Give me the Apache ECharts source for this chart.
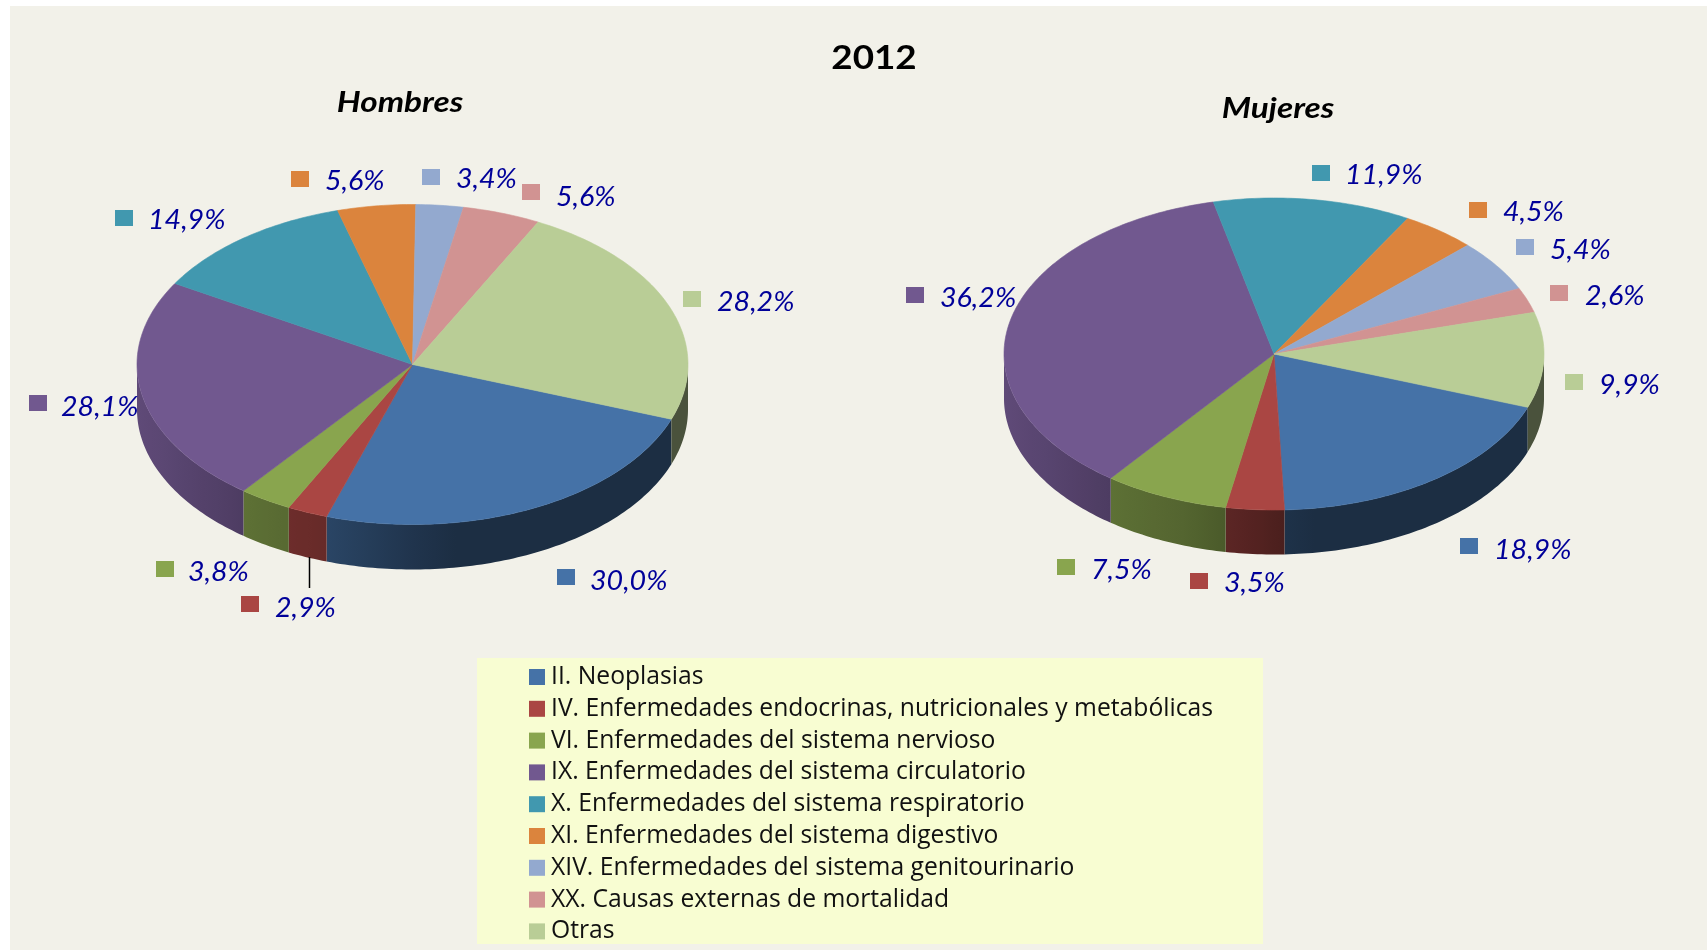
<!DOCTYPE html>
<html><head><meta charset="utf-8">
<style>html,body{margin:0;padding:0;background:#fff}#c{width:1707px;height:950px}</style>
<script src="https://cdn.jsdelivr.net/npm/echarts@6/dist/echarts.min.js"></script>
</head><body><div id="c"></div>
<script>
const categories = ['II. Neoplasias','IV. Enfermedades endocrinas, nutricionales y metabólicas','VI. Enfermedades del sistema nervioso','IX. Enfermedades del sistema circulatorio','X. Enfermedades del sistema respiratorio','XI. Enfermedades del sistema digestivo','XIV. Enfermedades del sistema genitourinario','XX. Causas externas de mortalidad','Otras'];
const hombresValues = [30.0,2.9,3.8,28.1,14.9,5.6,3.4,5.6,28.2];
const mujeresValues = [18.9,3.5,7.5,36.2,11.9,4.5,5.4,2.6,9.9];
const palette = ['#4572A7','#AA4643','#89A54E','#71588F','#4198AF','#DB843D','#93A9CF','#D19392','#B9CD96'];
const chartTitle = '2012';
const pieTitles = ['Hombres','Mujeres'];

// label layout: [marker left, marker centre y, text left, text centre y]
const hombresLabelLayout = [[557,577,590,581],[241,604,275,608],[156,569,188,572],[29,403,61,407],[115,218,148,220],[291,179,325,181],[422,177,456,179],[522,192,556,197],[683,299,717,302]];
const mujeresLabelLayout = [[1460,546,1494,550],[1190,581,1224,583],[1057,567,1091,570],[906,295,940,298],[1312,173,1345,175],[1469,210,1503,212],[1516,247,1550,250],[1550,293,1585,296],[1565,382,1599,385]];

const hombresGeom = {cx:412.5,cy:364.5,rx:275.5,ry:160,depth:45};
const mujeresGeom = {cx:1274,cy:354,rx:270,ry:156,depth:44.5};
const START_ANGLE = 110;
const LABEL_FONT = 'Lato, "Liberation Sans", sans-serif';

function shade(hex,f){
  const n=parseInt(hex.slice(1),16);
  const c=s=>Math.round(((n>>s)&255)*f);
  return `rgb(${c(16)},${c(8)},${c(0)})`;
}
const shadeTable=[[-1,.84],[-.6,.68],[-.3,.6],[0,.46],[.1,.4],[1,.4]];
function shadeAt(nx){
  for(let i=1;i<shadeTable.length;i++){
    const [a,fa]=shadeTable[i-1],[b,fb]=shadeTable[i];
    if(nx<=b){return fa+(fb-fa)*(nx-a)/(b-a);}
  }
  return .4;
}
function pt(g,deg,dy){
  const r=deg*Math.PI/180;
  return [g.cx+g.rx*Math.sin(r), g.cy-g.ry*Math.cos(r)+(dy||0)];
}
function arc(g,a,b,dy){
  const out=[],n=Math.max(2,Math.ceil(Math.abs(b-a)));
  for(let i=0;i<=n;i++){out.push(pt(g,a+(b-a)*i/n,dy));}
  return out;
}
function wallPieces(g,a1,a2,color){
  const res=[];
  for(const off of [0,360]){
    const s=Math.max(a1,90+off), e=Math.min(a2,270+off);
    if(e<=s) continue;
    const top=arc(g,s,e,0), bot=arc(g,e,s,g.depth);
    const pts=top.concat(bot);
    const xs=pts.map(p=>p[0]);
    const minX=Math.min(...xs), maxX=Math.max(...xs);
    const stops=[];
    for(let i=0;i<=8;i++){
      const x=minX+(maxX-minX)*i/8;
      stops.push({offset:i/8,color:shade(color,shadeAt((x-g.cx)/g.rx))});
    }
    res.push({type:'polygon',shape:{points:pts},
      style:{fill:{type:'linear',x:0,y:0,x2:1,y2:0,colorStops:stops}}});
  }
  return res;
}
function fmt(v){return v.toFixed(1).replace('.',',')+'%';}

function pieSeries(values,geom,layout){
  const total=values.reduce((a,b)=>a+b,0);
  let acc=0;
  return values.map((v,i)=>{
    const startShare=acc/total; acc+=v;
    const color=palette[i], lay=layout[i];
    return {
      type:'custom',name:categories[i],coordinateSystem:'none',
      itemStyle:{color},silent:true,animation:false,
      data:[[v]],
      renderItem(params,api){
        const val=api.value(0);
        const a1=START_ANGLE+startShare*360, a2=a1+val/total*360;
        const children=wallPieces(geom,a1,a2,color);
        children.push({type:'polygon',
          shape:{points:[[geom.cx,geom.cy]].concat(arc(geom,a1,a2,0))},
          style:{fill:color,stroke:color,lineWidth:.6}});
        children.push({type:'rect',shape:{x:lay[0],y:lay[1]-8,width:18,height:16},style:{fill:color}});
        children.push({type:'text',x:lay[2],y:lay[3],scaleX:1.06,style:{text:fmt(val),fill:'#000099',
          font:'italic 27px '+LABEL_FONT,textAlign:'left',textVerticalAlign:'middle'}});
        return {type:'group',children};
      }
    };
  });
}

const chart=echarts.init(document.getElementById('c'),null,{renderer:'canvas'});
chart.setOption({
  animation:false,
  backgroundColor:'#ffffff',
  graphic:[
    {type:'rect',z:-10,shape:{x:10,y:6,width:1697,height:944},style:{fill:'#F2F1E9'},silent:true},
    {type:'rect',z:-9,shape:{x:477,y:658,width:786,height:286},style:{fill:'#F8FDD2'},silent:true},
    {type:'line',z:5,shape:{x1:309.5,y1:557,x2:309.5,y2:588},style:{stroke:'#000',lineWidth:1.5},silent:true},
    {type:'text',z:5,x:874,y:59,scaleX:1.15,style:{text:chartTitle,font:'bold 32px Lato, sans-serif',fill:'#000',textAlign:'center',textVerticalAlign:'middle'},silent:true},
    {type:'text',z:5,x:400,y:103,scaleX:1.19,style:{text:pieTitles[0],font:'italic bold 28px Lato, sans-serif',fill:'#000',textAlign:'center',textVerticalAlign:'middle'},silent:true},
    {type:'text',z:5,x:1278,y:109,scaleX:1.19,style:{text:pieTitles[1],font:'italic bold 28px Lato, sans-serif',fill:'#000',textAlign:'center',textVerticalAlign:'middle'},silent:true}
  ],
  legend:{
    show:true,orient:'vertical',left:529,top:664.5,padding:0,height:330,width:760,
    data:categories,icon:'rect',itemWidth:16,itemHeight:16,itemGap:6.8,
    selectedMode:false,
    textStyle:{color:'#111',fontFamily:'"Open Sans", sans-serif',fontSize:24.7,padding:[0,0,0,1],lineHeight:23,height:23}
  },
  series:[...pieSeries(hombresValues,hombresGeom,hombresLabelLayout),
          ...pieSeries(mujeresValues,mujeresGeom,mujeresLabelLayout)]
});
</script></body></html>
